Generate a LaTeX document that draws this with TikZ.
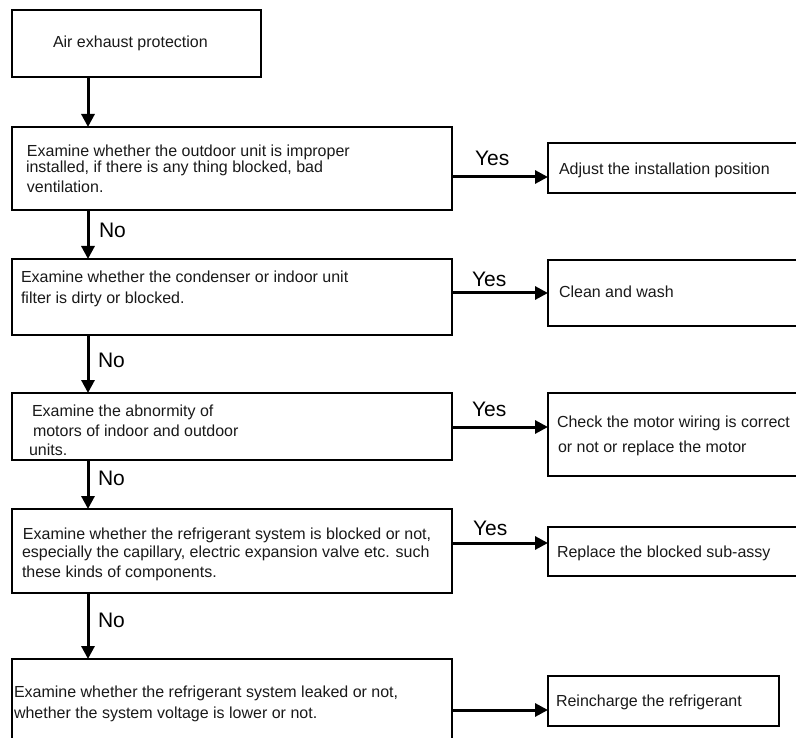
\documentclass[tikz,border=0pt]{standalone}
\usepackage{fontspec}
\setmainfont{Liberation Sans}
\usetikzlibrary{arrows.meta}
\begin{document}
\begin{tikzpicture}[x=1pt,y=-1pt,
  box/.style={draw=black,line width=1.3pt,inner sep=0pt,outer sep=0pt,anchor=north west},
  txt/.style={anchor=base west,inner sep=0pt,outer sep=0pt,font=\fontsize{16}{19}\selectfont,text=black!90},
  lbl/.style={anchor=base west,inner sep=0pt,outer sep=0pt,font=\fontsize{21}{24}\selectfont},
  arr/.style={line width=3pt,-{Triangle[length=13pt,width=13pt]}}]
\useasboundingbox (0,0) rectangle (796,738);
\clip (0,0) rectangle (796,738);
% left boxes
\node[box,minimum width=249pt,minimum height=67pt] (b1) at (12,10) {};
\node[box,minimum width=440pt,minimum height=83pt] (b2) at (12,127) {};
\node[box,minimum width=440pt,minimum height=76pt] (b3) at (12,259) {};
\node[box,minimum width=440pt,minimum height=67pt] (b4) at (12,393) {};
\node[box,minimum width=440pt,minimum height=84pt] (b5) at (12,509) {};
\node[box,minimum width=440pt,minimum height=100pt] (b6) at (12,659) {};
% right boxes
\node[box,minimum width=262pt,minimum height=50pt] (r1) at (548,143) {};
\node[box,minimum width=262pt,minimum height=66pt] (r2) at (548,260) {};
\node[box,minimum width=262pt,minimum height=83pt] (r3) at (548,393) {};
\node[box,minimum width=262pt,minimum height=49pt] (r4) at (548,527) {};
\node[box,minimum width=231pt,minimum height=50pt] (r5) at (548,676) {};
% texts
\node[txt] (t1) at (53,48) {Air exhaust protection};
\node[txt] (t2a) at (27,157) {Examine whether the outdoor unit is improper};
\node[txt] (t2b) at (26,173) {installed, if there is any thing blocked, bad};
\node[txt] (t2c) at (27,193) {ventilation.};
\node[txt] (t3a) at (21,283) {Examine whether the condenser or indoor unit};
\node[txt] (t3b) at (21,304) {filter is dirty or blocked.};
\node[txt] (t4a) at (32,417) {Examine the abnormity of};
\node[txt] (t4b) at (33,436) {motors of indoor and outdoor};
\node[txt] (t4c) at (29,455) {units.};
\node[txt] (t5a) at (23,539) {Examine whether the refrigerant system is blocked or not,};
\node[txt] (t5b) at (22,557) {especially the capillary, electric expansion valve etc. such};
\node[txt] (t5c) at (22,577) {these kinds of components.};
\node[txt] (t6a) at (14,697) {Examine whether the refrigerant system leaked or not,};
\node[txt] (t6b) at (14,718) {whether the system voltage is lower or not.};
\node[txt] (s1) at (559,175) {Adjust the installation position};
\node[txt] (s2) at (559,298) {Clean and wash};
\node[txt] (s3a) at (557,427) {Check the motor wiring is correct};
\node[txt] (s3b) at (558,452) {or not or replace the motor};
\node[txt] (s4) at (557,557) {Replace the blocked sub-assy};
\node[txt] (s5) at (556,706) {Reincharge the refrigerant};
% guide coordinates
\coordinate (vx) at (88,0);
\coordinate (h1) at (0,177);
\coordinate (h2) at (0,293);
\coordinate (h3) at (0,427);
\coordinate (h4) at (0,543);
\coordinate (h5) at (0,710);
% vertical arrows
\draw[arr] (b1.south -| vx) -- (b2.north -| vx);
\draw[arr] (b2.south -| vx) -- (b3.north -| vx);
\draw[arr] (b3.south -| vx) -- (b4.north -| vx);
\draw[arr] (b4.south -| vx) -- (b5.north -| vx);
\draw[arr] (b5.south -| vx) -- (b6.north -| vx);
% horizontal arrows
\draw[arr] (b2.east |- h1) -- (r1.west |- h1);
\draw[arr] (b3.east |- h2) -- (r2.west |- h2);
\draw[arr] (b4.east |- h3) -- (r3.west |- h3);
\draw[arr] (b5.east |- h4) -- (r4.west |- h4);
\draw[arr] (b6.east |- h5) -- (r5.west |- h5);
% labels
\node[lbl] (n1) at (99,238) {No};
\node[lbl] (n2) at (98,367) {No};
\node[lbl] (n3) at (98,485) {No};
\node[lbl] (n4) at (98,627) {No};
\node[lbl] (y1) at (475,166) {Yes};
\node[lbl] (y2) at (472,287) {Yes};
\node[lbl] (y3) at (472,416) {Yes};
\node[lbl] (y4) at (473,535) {Yes};
\end{tikzpicture}
\end{document}
